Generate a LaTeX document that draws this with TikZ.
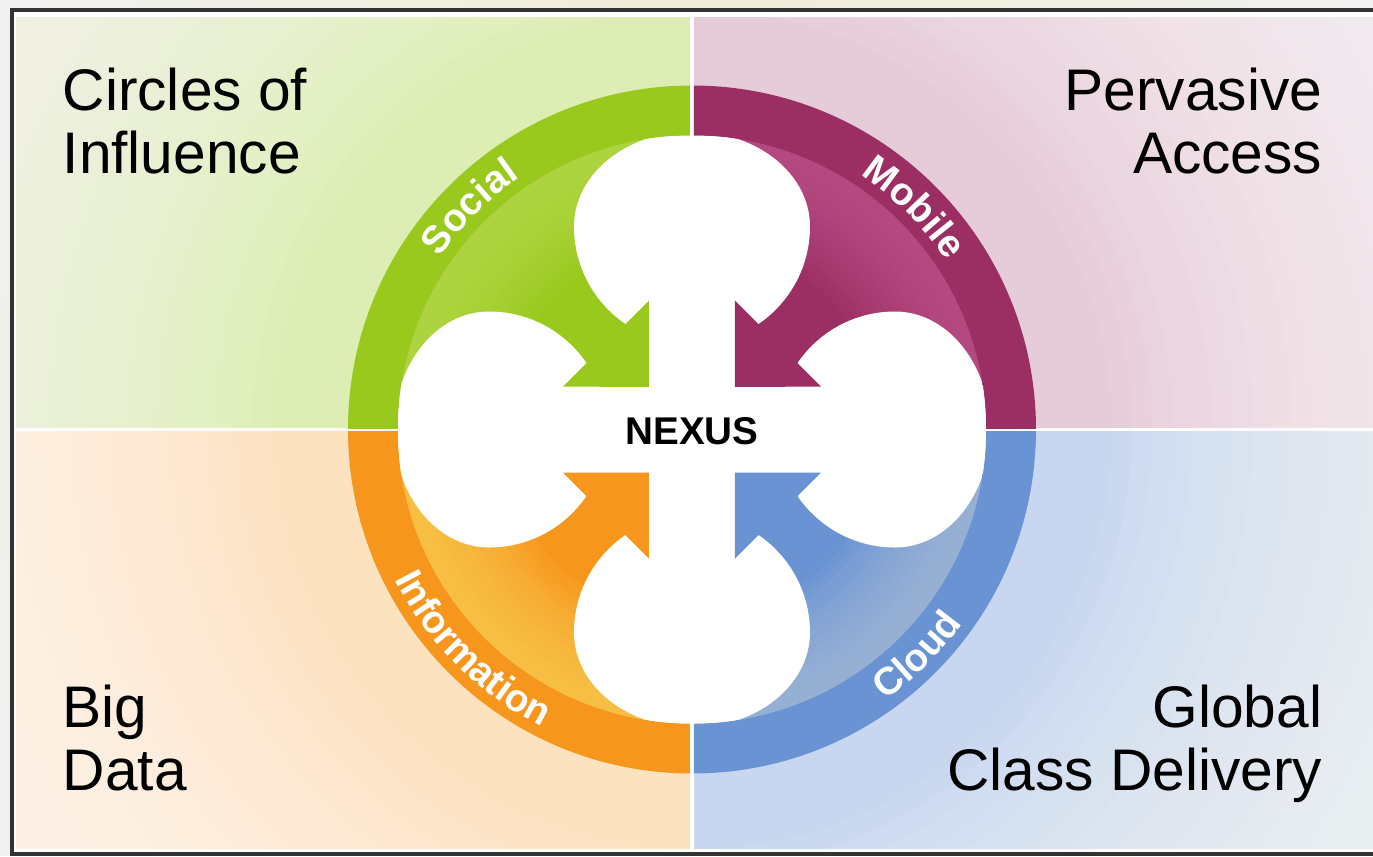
\documentclass[tikz,border=0pt]{standalone}
\usepackage{fontspec}
\setmainfont{Liberation Sans}
\usetikzlibrary{decorations.text}

\definecolor{paper}{HTML}{EFEBDA}
\definecolor{framedark}{HTML}{333333}
\definecolor{social}{HTML}{99C91C}
\definecolor{socialglow}{HTML}{BFE05A}
\definecolor{mobile}{HTML}{9B2F64}
\definecolor{mobileglow}{HTML}{C95C96}
\definecolor{info}{HTML}{F7961C}
\definecolor{infoglow}{HTML}{FFDA60}
\definecolor{cloud}{HTML}{6A93D4}
\definecolor{cloudglow}{HTML}{B4C6DE}

\tikzset{
	corner/.style={
		font=\fontsize{16.7}{17.9}\selectfont,
		inner sep=0pt,
	},
	ringlabel/.style={
		decorate,
		decoration={text along path, text align=center, text color=white,
			text={|\bfseries\fontsize{11}{13}\selectfont|#1}},
	},
	glow/.style={fill=#1, opacity=0.077, even odd rule},
	fade/.style={fill=white, opacity=0.062, even odd rule},
}

\begin{document}
\begin{tikzpicture}
	\useasboundingbox (-6.92,-4.265) rectangle (6.81,4.295);
	\clip (-6.92,-4.265) rectangle (6.81,4.295);
	\fill[paper] (-6.92,-4.265) rectangle (6.81,4.295);
	\fill[white] (-6.795,-4.24) rectangle (7.2,4.20);

	% quadrant backgrounds, paler towards the outer corners
	\fill[social!33!white] (-6.755,0.015) rectangle (-0.02,4.125);
	\fill[mobile!25!white] (0.02,0.015) rectangle (6.81,4.125);
	\fill[info!28!white] (-6.755,-0.015) rectangle (-0.02,-4.195);
	\fill[cloud!37!white] (0.02,-0.015) rectangle (6.81,-4.195);
	\foreach \r in {4.2,4.4,...,8.2}
		\fill[fade] (0,0) circle (9) circle (\r);

	% Social
	\begin{scope}
		\clip (-6.755,0.015) rectangle (-0.02,4.125);
		\fill[social] (0,0) circle (3.44);
		\foreach \r in {1.9,1.975,...,2.82}
			\fill[glow=socialglow] (0,0) circle (2.94) circle (\r);
	\end{scope}
	% Mobile
	\begin{scope}
		\clip (0.02,0.015) rectangle (6.81,4.125);
		\fill[mobile] (0,0) circle (3.44);
		\foreach \r in {1.9,1.975,...,2.82}
			\fill[glow=mobileglow] (0,0) circle (2.94) circle (\r);
	\end{scope}
	% Information
	\begin{scope}
		\clip (-6.755,-0.015) rectangle (-0.02,-4.195);
		\fill[info] (0,0) circle (3.44);
		\foreach \r in {1.9,1.975,...,2.82}
			\fill[glow=infoglow] (0,0) circle (2.94) circle (\r);
	\end{scope}
	% Cloud
	\begin{scope}
		\clip (0.02,-0.015) rectangle (6.81,-4.195);
		\fill[cloud] (0,0) circle (3.44);
		\foreach \r in {1.9,1.975,...,2.82}
			\fill[glow=cloudglow] (0,0) circle (2.94) circle (\r);
	\end{scope}

	% white cross with its four lobes
	\begin{scope}
		\clip (0,0) circle (2.94);
		\fill[white] (-0.43,-2.94) rectangle (0.43,2.94);
		\fill[white] (-2.94,-0.43) rectangle (2.94,0.43);
		\foreach \a in {0,90,180,270}
			\fill[white, rotate=\a] (1.18,2.03)
				arc[start angle=0, end angle=180, x radius=1.18, y radius=0.95]
				arc[start angle=180, end angle=360, radius=1.18];
	\end{scope}

	% arrow heads
	\fill[social] (-0.43,0.43) -- (-0.43,1.29) -- (-1.29,0.43) -- cycle;
	\fill[mobile] (0.43,0.43) -- (0.43,1.29) -- (1.29,0.43) -- cycle;
	\fill[info] (-0.43,-0.43) -- (-0.43,-1.29) -- (-1.29,-0.43) -- cycle;
	\fill[cloud] (0.43,-0.43) -- (0.43,-1.29) -- (1.29,-0.43) -- cycle;

	\path[ringlabel=Social] (180:3.05) arc[start angle=180, end angle=90, radius=3.05];
	\path[ringlabel=Mobile] (90:3.05) arc[start angle=90, end angle=0, radius=3.05];
	\path[ringlabel=Information] (180:3.33) arc[start angle=180, end angle=270, radius=3.33];
	\path[ringlabel=Cloud] (270:3.33) arc[start angle=270, end angle=360, radius=3.33];

	\node[corner, anchor=base west, align=left] (circles) at (-6.30,2.565) {Circles of\\Influence};
	\node[corner, anchor=base east, align=right] (pervasive) at (6.31,2.565) {Pervasive\\Access};
	\node[corner, anchor=base west, align=left] (bigdata) at (-6.30,-3.605) {Big\\Data};
	\node[corner, anchor=base east, align=right] (global) at (6.31,-3.605) {Global\\Class Delivery};
	\node[font=\bfseries\fontsize{11}{13}\selectfont] (nexus) at (0,-0.015) {NEXUS};

	\draw[framedark, line width=0.04cm] (-6.795,-4.24) rectangle (7.2,4.20);
\end{tikzpicture}
\end{document}
